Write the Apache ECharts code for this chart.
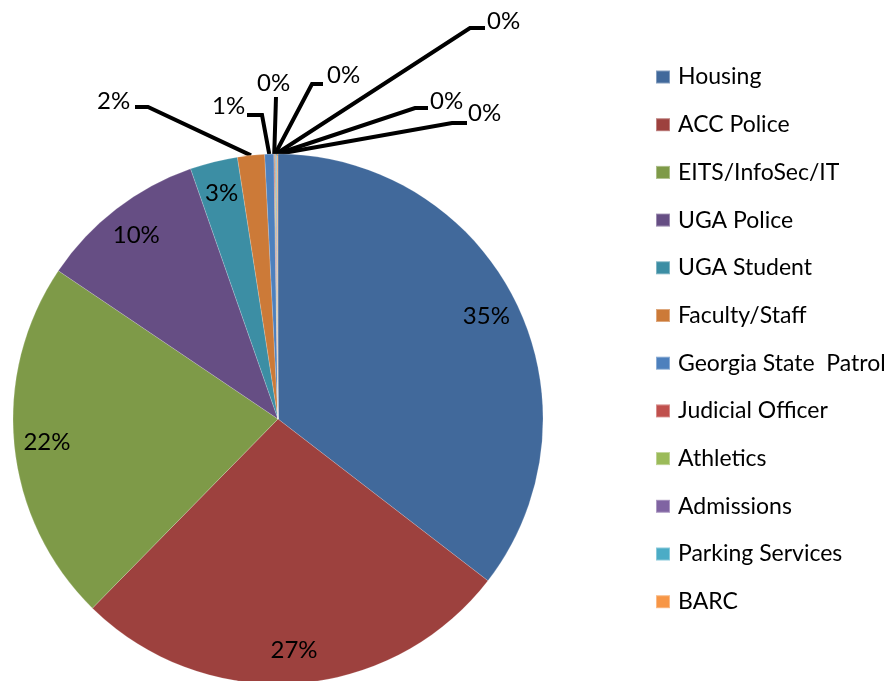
<!DOCTYPE html>
<html>
<head>
<meta charset="utf-8">
<script src="https://cdn.jsdelivr.net/npm/echarts@6/dist/echarts.min.js"></script>
<style>
html,body{margin:0;padding:0;background:#fff;}
#chart{width:895px;height:681px;}
</style>
</head>
<body>
<div id="chart"></div>
<script>
// ---- data ----
const categories = ['Housing','ACC Police','EITS/InfoSec/IT','UGA Police','UGA Student','Faculty/Staff','Georgia State  Patrol','Judicial Officer','Athletics','Admissions','Parking Services','BARC'];
const values = [709, 538, 442, 204, 58, 33, 11, 1, 1, 1, 1, 1];
const colors = ['#41699B','#9D413E','#7E9A48','#664E84','#3C8EA4','#CC7A38','#4D80BD','#C0504D','#9BBB59','#8064A2','#4BACC6','#F79646'];

// ---- layout for the outside labels of the small slices (label left x, label centre y, elbow x, elbow y, end x) ----
const outsideLabelLayout = {
  'Faculty/Staff':        [97, 101, 148, 107, 135],
  'Georgia State  Patrol':[212, 106, 262, 115, 247],
  'Judicial Officer':     [257, 83, 276, 97, 276],
  'Athletics':            [327, 75, 312, 84, 323],
  'Admissions':           [487, 21, 470, 28, 485],
  'Parking Services':     [430, 101, 415, 108, 428],
  'BARC':                 [468, 113, 452, 123, 467]
};
const insideNames = ['Housing','ACC Police','EITS/InfoSec/IT','UGA Police','UGA Student'];

const FONT = 'Lato';
const FS = 24;
const CX = 278, CY = 419, R = 265;

const chart = echarts.init(document.getElementById('chart'), null, {renderer:'canvas'});

const pctFmt = p => Math.round(p.percent) + '%';

const mainData = categories.map((n, i) => ({
  name: n,
  value: values[i],
  itemStyle: {color: colors[i]},
  label: {show: !!outsideLabelLayout[n]},
  labelLine: {show: !!outsideLabelLayout[n]}
}));
const ringData = categories.map((n, i) => ({
  name: n,
  value: values[i],
  label: {show: insideNames.indexOf(n) >= 0}
}));

chart.setOption({
  backgroundColor: '#fff',
  animation: false,
  color: colors,
  legend: {
    orient: 'vertical',
    left: 650,
    top: 60,
    itemWidth: 14,
    itemHeight: 13,
    itemGap: 23.7,
    icon: 'rect',
    data: categories,
    selectedMode: false,
    textStyle: {fontFamily: FONT, fontSize: 23, color: '#000', lineHeight: 24, padding: [0,0,0,3]}
  },
  series: [
    {
      type: 'pie',
      center: [CX, CY],
      radius: [0, R],
      startAngle: 90,
      clockwise: true,
      avoidLabelOverlap: false,
      silent: true,
      percentPrecision: 3,
      itemStyle: {borderColor: 'rgba(255,255,255,0.35)', borderWidth: 0.5},
      label: {
        position: 'outside',
        formatter: pctFmt,
        fontFamily: FONT, fontSize: FS, color: '#000'
      },
      labelLine: {show: true, lineStyle: {color: '#000', width: 4}, length: 10, length2: 10},
      labelLayout: function (params) {
        const name = categories[params.dataIndex];
        const L = outsideLabelLayout[name];
        if (!L) return {};
        const pts = params.labelLinePoints;
        const start = pts ? pts[0] : [CX, CY - R];
        return {
          x: L[0], y: L[1], align: 'left', verticalAlign: 'middle',
          labelLinePoints: [start, [L[2], L[3]], [L[4], L[3]]]
        };
      },
      data: mainData
    },
    {
      type: 'pie',
      center: [CX, CY],
      radius: [R * 0.73, R],
      startAngle: 90,
      clockwise: true,
      silent: true,
      percentPrecision: 3,
      avoidLabelOverlap: false,
      itemStyle: {color: 'rgba(0,0,0,0)'},
      label: {position: 'inside', formatter: pctFmt, fontFamily: FONT, fontSize: FS, color: '#000'},
      labelLine: {show: false},
      data: ringData
    }
  ]
});
</script>
</body>
</html>
